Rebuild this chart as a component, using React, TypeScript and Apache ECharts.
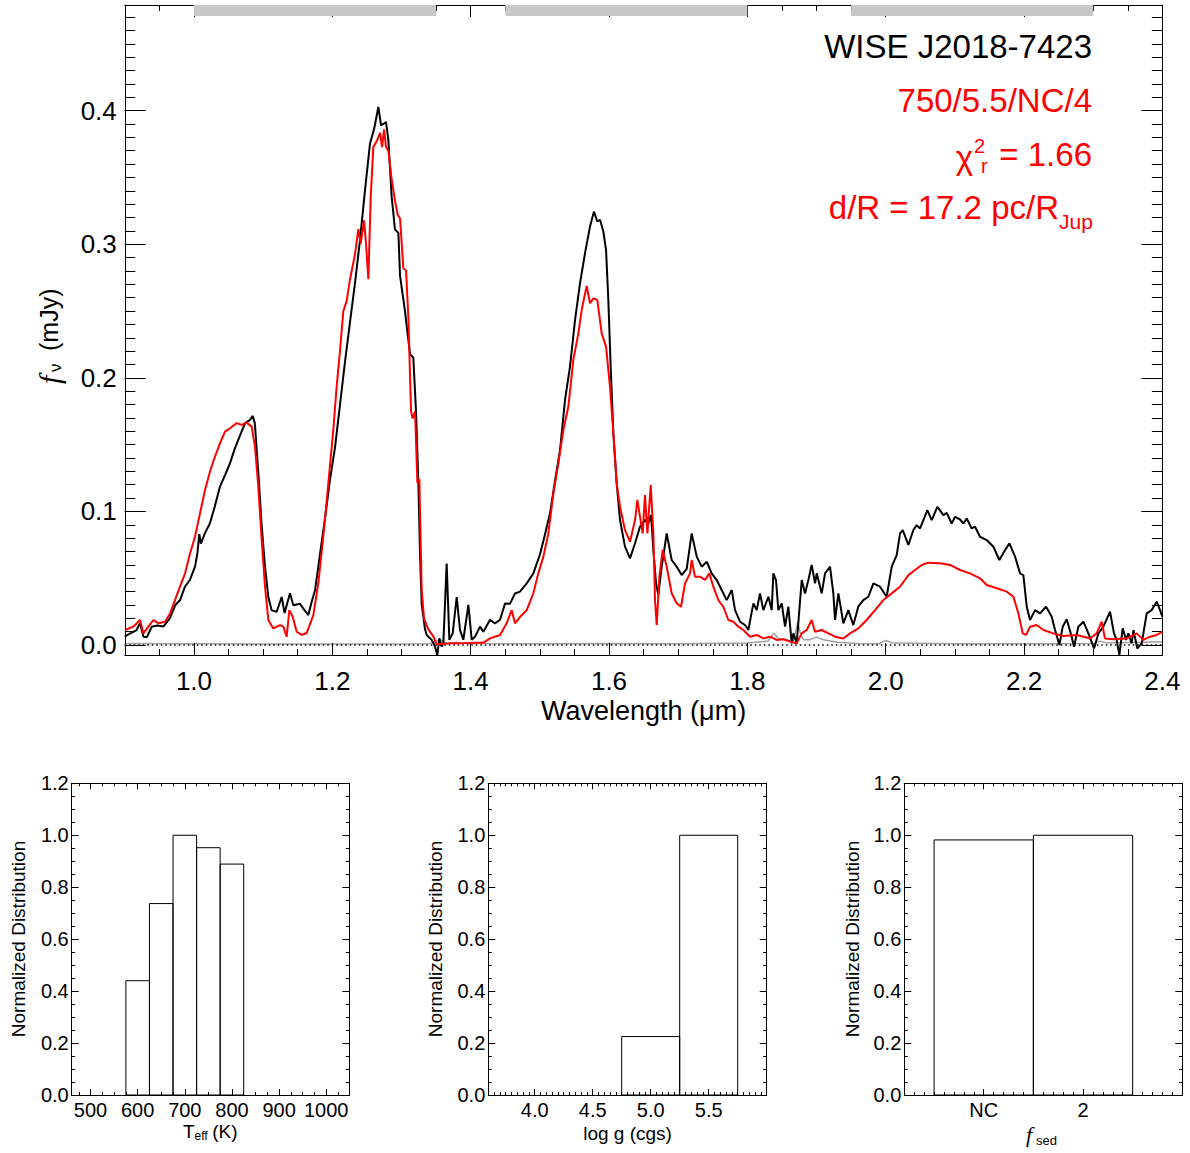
import React, { useEffect, useRef } from "react";
import * as echarts from "echarts";

// ---------------- data: observed spectrum (black) ----------------
const obsWave = [
  0.900, 0.906, 0.917, 0.922, 0.927, 0.932, 0.939, 0.947, 0.956, 0.965, 0.973, 0.980, 0.987, 0.994,
  1.0015, 1.005, 1.0077, 1.010, 1.016, 1.023, 1.030, 1.0376, 1.045, 1.052, 1.059, 1.0666, 1.0738, 1.081,
  1.085, 1.088, 1.093, 1.098, 1.1027, 1.1075, 1.1123, 1.1196, 1.1268, 1.131, 1.1388, 1.1436, 1.153, 1.160,
  1.1653, 1.170, 1.175, 1.1822, 1.1894, 1.1967, 1.2039, 1.2111, 1.2184, 1.2256, 1.2328, 1.240, 1.2473,
  1.2545, 1.2603, 1.2666, 1.2704, 1.2738, 1.2776, 1.281, 1.2858, 1.2906, 1.2955, 1.2979, 1.3051, 1.3123,
  1.3171, 1.321, 1.3244, 1.3268, 1.3292, 1.334, 1.3364, 1.3437, 1.3485, 1.3518, 1.3547, 1.3581, 1.3605,
  1.3653, 1.3692, 1.374, 1.3798, 1.3846, 1.3894, 1.3967, 1.4015, 1.4063, 1.4135, 1.4183, 1.428, 1.4352,
  1.4425, 1.4497, 1.4569, 1.4641, 1.4713, 1.481, 1.4906, 1.5003, 1.5075, 1.5147, 1.522, 1.5292, 1.5364,
  1.5436, 1.5509, 1.5581, 1.5653, 1.5725, 1.5783, 1.5831, 1.587, 1.5918, 1.5957, 1.599, 1.6024, 1.6063,
  1.6111, 1.6159, 1.6231, 1.6304, 1.6376, 1.6448, 1.652, 1.6569, 1.6608, 1.6641, 1.668, 1.6713, 1.6762,
  1.6834, 1.6906, 1.6978, 1.7051, 1.7123, 1.7195, 1.7268, 1.734, 1.7412, 1.7484, 1.7557, 1.7629, 1.7701,
  1.7774, 1.7822, 1.7894, 1.7966, 1.8014, 1.8087, 1.8135, 1.8183, 1.8231, 1.8304, 1.8352, 1.8376, 1.8414,
  1.8448, 1.8497, 1.8545, 1.8593, 1.8641, 1.8665, 1.8713, 1.8786, 1.8834, 1.8882, 1.893, 1.8979, 1.9003,
  1.9075, 1.9123, 1.9195, 1.9243, 1.9268, 1.9316, 1.9388, 1.946, 1.9532, 1.9605, 1.9677, 1.9749, 1.9822,
  1.9918, 2.0014, 2.0087, 2.0159, 2.0207, 2.0246, 2.0328, 2.040, 2.0448, 2.0496, 2.0545, 2.0602, 2.0665,
  2.0747, 2.0834, 2.0882, 2.0954, 2.1002, 2.1075, 2.1123, 2.1171, 2.1243, 2.1291, 2.1364, 2.146, 2.1557,
  2.1643, 2.1711, 2.1788, 2.187, 2.1942, 2.199, 2.2039, 2.2087, 2.2159, 2.2231, 2.2318, 2.240, 2.2448,
  2.2511, 2.2559, 2.2617, 2.2675, 2.2723, 2.2785, 2.2858, 2.293, 2.3012, 2.3075, 2.3147, 2.3243, 2.330,
  2.3339, 2.3378, 2.3426, 2.3474, 2.3508, 2.3556, 2.3581, 2.3638, 2.3701, 2.3773, 2.3845, 2.3918, 2.3966,
  2.400,
];
const obsFlux = [
  0.0063, 0.0083, 0.0113, 0.0163, 0.0063, 0.0060, 0.0138, 0.0146, 0.0140, 0.0200, 0.0300, 0.0338, 0.0437, 0.0487,
  0.0587, 0.0690, 0.0830, 0.0760, 0.0840, 0.0910, 0.1036, 0.1186, 0.1273, 0.1360, 0.1470, 0.1570, 0.1660, 0.1685,
  0.1715, 0.1660, 0.1290, 0.0886, 0.0587, 0.0360, 0.0260, 0.0250, 0.0360, 0.0240, 0.0388, 0.0298, 0.0310, 0.0260,
  0.0225, 0.0320, 0.0410, 0.0680, 0.0947, 0.1240, 0.1480, 0.1800, 0.2123, 0.2418, 0.2710, 0.3030, 0.3406,
  0.3754, 0.3860, 0.4027, 0.3890, 0.3900, 0.3915, 0.3780, 0.3354, 0.3110, 0.3085, 0.2765, 0.2498, 0.2177,
  0.2150, 0.1750, 0.1214, 0.0680, 0.0305, 0.0120, 0.0076, 0.0039, -0.0010, -0.0075, 0.0051, -0.0010, 0.0013,
  0.0610, 0.0039, 0.0088, 0.0360, 0.0113, 0.0040, 0.0301, 0.0040, 0.0063, 0.0138, 0.0100, 0.0190, 0.0163,
  0.0190, 0.0312, 0.0310, 0.0386, 0.0400, 0.0462, 0.0537, 0.0680, 0.0830, 0.0986, 0.1230, 0.1460, 0.1835,
  0.2084, 0.2434, 0.2708, 0.2933, 0.3132, 0.3245, 0.3170, 0.3183, 0.3095, 0.2958, 0.2584, 0.2084, 0.1585,
  0.1210, 0.0936, 0.0737, 0.0649, 0.0762, 0.0886, 0.0936, 0.0910, 0.0974, 0.0712, 0.0462, 0.0375, 0.0587,
  0.0836, 0.0637, 0.0587, 0.0524, 0.0570, 0.0836, 0.0662, 0.0587, 0.0624, 0.0537, 0.0487, 0.0412, 0.0337,
  0.0412, 0.0262, 0.0175, 0.0150, 0.0113, 0.0312, 0.0262, 0.0387, 0.0262, 0.0362, 0.0262, 0.0537, 0.0487,
  0.0262, 0.0312, 0.0138, 0.0287, 0.0013, 0.0088, 0.0013, 0.0487, 0.0387, 0.0487, 0.0600, 0.0462, 0.0537,
  0.0387, 0.0537, 0.0587, 0.0387, 0.0188, 0.0387, 0.0163, 0.0262, 0.0150, 0.0290, 0.0337, 0.0362, 0.0462,
  0.0437, 0.0362, 0.0587, 0.0674, 0.0836, 0.0861, 0.0749, 0.0861, 0.0898, 0.0873, 0.0936, 0.1010, 0.0936,
  0.1035, 0.0973, 0.0990, 0.0910, 0.0960, 0.0940, 0.0910, 0.0948, 0.0873, 0.0886, 0.0811, 0.0786, 0.0736,
  0.0637, 0.0699, 0.0761, 0.0662, 0.0537, 0.0524, 0.0287, 0.0188, 0.0262, 0.0237, 0.0287, 0.0212, 0.0113,
  0.0001, 0.0138, 0.0193, 0.0088, -0.0012, 0.0138, 0.0175, 0.0088, -0.0025, 0.0088, 0.0138, 0.0250, 0.0088,
  0.0039, -0.0075, 0.0126, 0.0039, 0.0088, 0.0013, 0.0113, -0.0025, 0.0013, 0.0237, 0.0262, 0.0325, 0.0262,
  0.0212,
];

// ---------------- data: model spectrum (red) ----------------
const modelWave = [
  0.9003, 0.9123, 0.922, 0.9268, 0.934, 0.9413, 0.9485, 0.9581, 0.9654, 0.9726, 0.9798, 0.9871, 0.9943,
  1.0015, 1.0087, 1.016, 1.0232, 1.0304, 1.0377, 1.0449, 1.0521, 1.0617, 1.069, 1.0762, 1.0834, 1.0882,
  1.093, 1.0979, 1.1027, 1.1075, 1.1147, 1.1244, 1.1292, 1.134, 1.1379, 1.1427, 1.1485, 1.1557, 1.163,
  1.1726, 1.1798, 1.187, 1.1943, 1.2015, 1.2063, 1.2111, 1.2159, 1.2208, 1.2256, 1.2328, 1.2376, 1.241,
  1.2458, 1.2487, 1.2521, 1.2555, 1.2593, 1.2651, 1.269, 1.2719, 1.2748, 1.2776, 1.281, 1.2858, 1.2906,
  1.2945, 1.2979, 1.3027, 1.3066, 1.31, 1.3138, 1.3162, 1.3196, 1.323, 1.3258, 1.3292, 1.3326, 1.3388,
  1.346, 1.3509, 1.3702, 1.3846, 1.4039, 1.4184, 1.428, 1.4425, 1.452, 1.4593, 1.4641, 1.4713, 1.481,
  1.4906, 1.4978, 1.5051, 1.5123, 1.5196, 1.5268, 1.534, 1.5412, 1.5484, 1.5557, 1.5605, 1.5677, 1.5725,
  1.5774, 1.5831, 1.5894, 1.5957, 1.6014, 1.6063, 1.6111, 1.6159, 1.6231, 1.6304, 1.6376, 1.641, 1.6448,
  1.6487, 1.652, 1.6555, 1.6603, 1.6641, 1.6665, 1.669, 1.6728, 1.6776, 1.6834, 1.6906, 1.6978, 1.7041,
  1.7099, 1.7171, 1.7195, 1.7243, 1.7316, 1.7388, 1.745, 1.7508, 1.7581, 1.7653, 1.7725, 1.7798, 1.787,
  1.7942, 1.8039, 1.8135, 1.8231, 1.8328, 1.8424, 1.852, 1.8617, 1.8713, 1.8786, 1.8858, 1.893, 1.8978,
  1.9075, 1.9171, 1.9268, 1.9388, 1.9484, 1.9605, 1.9725, 1.9846, 1.9966, 2.0087, 2.0207, 2.0328, 2.0424,
  2.0521, 2.0617, 2.0786, 2.093, 2.1075, 2.1219, 2.1364, 2.146, 2.1605, 2.1749, 2.1846, 2.1918, 2.1981,
  2.2029, 2.2087, 2.2183, 2.2279, 2.2424, 2.2569, 2.2761, 2.2954, 2.305, 2.3122, 2.317, 2.3291, 2.3484,
  2.3629, 2.3725, 2.3822, 2.3918, 2.400,
];
const modelFlux = [
  0.0113, 0.0138, 0.0188, 0.0088, 0.0138, 0.0188, 0.0163, 0.0175, 0.0237, 0.0337, 0.0437, 0.0537, 0.0686,
  0.0811, 0.0986, 0.1161, 0.1300, 0.1411, 0.1511, 0.1598, 0.1623, 0.1661, 0.1648, 0.1665, 0.1635, 0.1485,
  0.1186, 0.0786, 0.0437, 0.0188, 0.0125, 0.0150, 0.0138, 0.0063, 0.0262, 0.0212, 0.0100, 0.0076, 0.0091,
  0.0225, 0.0466, 0.0813, 0.1214, 0.1615, 0.1936, 0.2204, 0.2498, 0.2578, 0.2738, 0.2925, 0.3112, 0.3005,
  0.3179, 0.3005, 0.2738, 0.3353, 0.3727, 0.3780, 0.3834, 0.3727, 0.3860, 0.3727, 0.3700, 0.3486, 0.3326,
  0.3220, 0.3193, 0.2818, 0.2805, 0.2444, 0.1750, 0.1696, 0.1750, 0.1214, 0.1241, 0.0413, 0.0198, 0.0118,
  0.0065, 0.0006, 0.0013, 0.0013, 0.0018, 0.0018, 0.0050, 0.0076, 0.0163, 0.0262, 0.0163, 0.0210, 0.0262,
  0.0388, 0.0537, 0.0662, 0.0836, 0.1136, 0.1360, 0.1610, 0.1785, 0.2134, 0.2333, 0.2508, 0.2688, 0.2558,
  0.2595, 0.2583, 0.2333, 0.2234, 0.1934, 0.1585, 0.1210, 0.1036, 0.0861, 0.0774, 0.0936, 0.1086, 0.0961,
  0.0836, 0.1123, 0.0836, 0.1198, 0.0836, 0.0337, 0.0150, 0.0512, 0.0712, 0.0587, 0.0388, 0.0313, 0.0287,
  0.0462, 0.0537, 0.0637, 0.0512, 0.0512, 0.0487, 0.0537, 0.0437, 0.0337, 0.0287, 0.0188, 0.0175, 0.0138,
  0.0113, 0.0063, 0.0076, 0.0050, 0.0063, 0.0039, 0.0044, 0.0026, 0.0013, 0.0088, 0.0113, 0.0188, 0.0100,
  0.0113, 0.0088, 0.0063, 0.0050, 0.0088, 0.0126, 0.0188, 0.0262, 0.0337, 0.0387, 0.0437, 0.0524, 0.0562,
  0.0600, 0.0617, 0.0612, 0.0600, 0.0562, 0.0537, 0.0500, 0.0450, 0.0425, 0.0400, 0.0362, 0.0237, 0.0088,
  0.0076, 0.0138, 0.0150, 0.0113, 0.0088, 0.0068, 0.0076, 0.0050, 0.0088, 0.0175, 0.0050, 0.0044, 0.0050,
  0.0088, 0.0039, 0.0063, 0.0076, 0.0100,
];

// ---------------- data: noise spectrum (gray) ----------------
const noiseWave = [
  0.900, 1.000, 1.200, 1.340, 1.356, 1.365, 1.380, 1.400, 1.500, 1.600, 1.700, 1.800, 1.830, 1.838, 1.845,
  1.858, 1.866, 1.873, 1.877, 1.881, 1.890, 1.900, 1.910, 1.930, 1.960, 1.990, 2.000, 2.010, 2.100, 2.200,
  2.300, 2.310, 2.320, 2.400,
];
const noiseFlux = [
  0.0012, 0.0010, 0.0008, 0.0010, 0.0040, 0.0015, 0.0020, 0.0012, 0.0010, 0.0012, 0.0010, 0.0015, 0.0030,
  0.0090, 0.0050, 0.0040, 0.0020, 0.0170, 0.0080, 0.0040, 0.0040, 0.0060, 0.0040, 0.0022, 0.0012, 0.0010,
  0.0035, 0.0015, 0.0010, 0.0010, 0.0012, 0.0030, 0.0015, 0.0025,
];

// gray band markers along top (wavelength ranges)
const bandStart = [1.0, 1.45, 1.95];
const bandEnd = [1.35, 1.8, 2.3];

// main axes
const waveRange = [0.9, 2.4];
const fluxRange = [-0.0074, 0.479];
const waveTicks = [1.0, 1.2, 1.4, 1.6, 1.8, 2.0, 2.2, 2.4];
const fluxTicks = [0.0, 0.1, 0.2, 0.3, 0.4];

// annotation text
const objectName = "WISE J2018-7423";
const bestModel = "750/5.5/NC/4";
const chiValue = "= 1.66";
const distText = "d/R = 17.2 pc/R";

// histograms
const teffCenters = [600, 650, 700, 750, 800];
const teffHeights = [0.44, 0.737, 1.0, 0.952, 0.889];
const teffBinWidth = 50;
const teffRange = [460, 1049];
const teffTicks = [500, 600, 700, 800, 900, 1000];

const loggCenters = [5.0, 5.5];
const loggHeights = [0.225, 1.0];
const loggBinWidth = 0.5;
const loggRange = [3.6, 6.0];
const loggTicks = [4.0, 4.5, 5.0, 5.5];

const fsedLabels = ["NC", "2"];
const fsedCenters = [0, 1];
const fsedHeights = [0.982, 1.0];
const fsedBinWidth = 1;
const fsedRange = [-0.8, 2.0];

const histYRange = [0, 1.2];
const histYTicks = [0.0, 0.2, 0.4, 0.6, 0.8, 1.0, 1.2];

// ---------------- helpers ----------------
const FONT = '"Liberation Sans", Arial, Helvetica, sans-serif';

function steps(a: number, b: number, step: number): number[] {
  const out: number[] = [];
  const n = Math.round((b - a) / step);
  for (let i = 0; i <= n; i++) out.push(+(a + i * step).toFixed(6));
  return out;
}

type AxisSpec = {
  grid: number;
  min: number;
  max: number;
  majors: number[];
  minors: number[];
  majorLen: number;
  minorLen: number;
  labelValues: number[];
  formatter: (v: number) => string;
  fontSize: number;
  margin: number;
};

function buildAxes(dim: "x" | "y", s: AxisSpec) {
  const sides = dim === "x" ? ["bottom", "top"] : ["left", "right"];
  const line = { show: true, onZero: false, lineStyle: { color: "#000", width: 1 } };
  const axes: any[] = [];
  sides.forEach((pos, si) => {
    axes.push({
      type: "value",
      gridIndex: s.grid,
      position: pos,
      min: s.min,
      max: s.max,
      axisLine: line,
      axisTick: {
        show: true,
        inside: true,
        length: s.majorLen,
        customValues: s.majors,
        lineStyle: { color: "#000", width: 1 },
      },
      axisLabel: {
        show: si === 0,
        customValues: s.labelValues,
        formatter: s.formatter,
        fontSize: s.fontSize,
        fontFamily: FONT,
        color: "#000",
        margin: s.margin,
      },
      splitLine: { show: false },
      z: 3,
    });
    axes.push({
      type: "value",
      gridIndex: s.grid,
      position: pos,
      min: s.min,
      max: s.max,
      axisLine: { show: false, onZero: false },
      axisTick: {
        show: true,
        inside: true,
        length: s.minorLen,
        customValues: s.minors,
        lineStyle: { color: "#000", width: 1 },
      },
      axisLabel: { show: false },
      splitLine: { show: false },
      z: 3,
    });
  });
  return axes;
}

function histSeries(grid: number, centers: number[], heights: number[], width: number) {
  return {
    type: "custom",
    xAxisIndex: grid * 4,
    yAxisIndex: grid * 4,
    data: centers.map((c, i) => [c, heights[i]]),
    encode: { x: 0, y: 1 },
    renderItem: (params: any, api: any) => {
      const c = api.value(0);
      const h = api.value(1);
      const p0 = api.coord([c - width / 2, 0]);
      const p1 = api.coord([c + width / 2, h]);
      return {
        type: "rect",
        shape: { x: p0[0], y: p1[1], width: p1[0] - p0[0], height: p0[1] - p1[1] },
        style: { fill: "none", stroke: "#000", lineWidth: 1 },
      };
    },
    z: 2,
  };
}

function txt(text: string, x: number, y: number, font: string, fill: string, align = "left", valign = "middle") {
  return {
    type: "text",
    x,
    y,
    style: {
      text,
      font,
      fill,
      textAlign: align,
      align,
      textVerticalAlign: valign,
      verticalAlign: valign,
    },
    z: 10,
  };
}

export default function App() {
  const ref = useRef<HTMLDivElement>(null);

  useEffect(() => {
    if (!ref.current) return;
    const chart = echarts.init(ref.current, undefined, { renderer: "svg" });

    const grids = [
      { left: 124.8, top: 5, width: 1037.6, height: 650 },
      { left: 71.7, top: 783.3, width: 277.6, height: 311.7 },
      { left: 488.3, top: 783.3, width: 278.4, height: 311.7 },
      { left: 904.3, top: 783.3, width: 278, height: 311.7 },
    ].map((g) => ({ ...g, outerBoundsMode: "none", containLabel: false, show: false }));

    const f1 = (v: number) => v.toFixed(1);
    const histY = (g: number): AxisSpec => ({
      grid: g,
      min: histYRange[0],
      max: histYRange[1],
      majors: histYTicks,
      minors: steps(0, 1.2, 0.05),
      majorLen: 7,
      minorLen: 3.5,
      labelValues: histYTicks,
      formatter: f1,
      fontSize: 20,
      margin: 3,
    });

    const xAxes = [
      ...buildAxes("x", {
        grid: 0, min: waveRange[0], max: waveRange[1], majors: waveTicks,
        minors: steps(0.9, 2.4, 0.05), majorLen: 12, minorLen: 6,
        labelValues: waveTicks, formatter: f1, fontSize: 26, margin: 13,
      }),
      ...buildAxes("x", {
        grid: 1, min: teffRange[0], max: teffRange[1], majors: teffTicks,
        minors: steps(475, 1025, 25), majorLen: 6, minorLen: 3,
        labelValues: teffTicks, formatter: (v) => String(Math.round(v)), fontSize: 20, margin: 5,
      }),
      ...buildAxes("x", {
        grid: 2, min: loggRange[0], max: loggRange[1], majors: [4.0, 4.5, 5.0, 5.5, 6.0],
        minors: steps(3.6, 6.0, 0.05), majorLen: 6, minorLen: 3,
        labelValues: loggTicks, formatter: f1, fontSize: 20, margin: 5,
      }),
      ...buildAxes("x", {
        grid: 3, min: fsedRange[0], max: fsedRange[1], majors: fsedCenters,
        minors: steps(-0.8, 2.0, 0.1), majorLen: 6, minorLen: 3,
        labelValues: fsedCenters, formatter: (v) => fsedLabels[Math.round(v)] ?? "", fontSize: 20, margin: 5,
      }),
    ];

    const yAxes = [
      ...buildAxes("y", {
        grid: 0, min: fluxRange[0], max: fluxRange[1], majors: fluxTicks,
        minors: steps(0, 0.47, 0.01), majorLen: 21, minorLen: 10.5,
        labelValues: fluxTicks, formatter: f1, fontSize: 26, margin: 8,
      }),
      ...buildAxes("y", histY(1)),
      ...buildAxes("y", histY(2)),
      ...buildAxes("y", histY(3)),
    ];

    const pairs = (xs: number[], ys: number[]) => xs.map((x, i) => [x, ys[i]]);

    const series: any[] = [
      {
        type: "line",
        name: "noise",
        xAxisIndex: 0,
        yAxisIndex: 0,
        data: pairs(noiseWave, noiseFlux),
        symbol: "none",
        lineStyle: { color: "#a0a0a0", width: 1.5 },
        z: 2,
      },
      {
        type: "line",
        name: "zero",
        xAxisIndex: 0,
        yAxisIndex: 0,
        data: [[waveRange[0], 0], [waveRange[1], 0]],
        symbol: "none",
        lineStyle: { color: "#000", width: 1.5, type: [1.5, 3] },
        z: 2,
      },
      {
        type: "line",
        name: "observed",
        xAxisIndex: 0,
        yAxisIndex: 0,
        data: pairs(obsWave, obsFlux),
        symbol: "none",
        lineStyle: { color: "#000", width: 2 },
        z: 3,
      },
      {
        type: "line",
        name: "model",
        xAxisIndex: 0,
        yAxisIndex: 0,
        data: pairs(modelWave, modelFlux),
        symbol: "none",
        lineStyle: { color: "#ff0000", width: 2 },
        z: 4,
      },
      {
        type: "custom",
        name: "bands",
        xAxisIndex: 0,
        yAxisIndex: 0,
        data: bandStart.map((s, i) => [s, bandEnd[i]]),
        encode: { x: [0, 1] },
        renderItem: (params: any, api: any) => {
          const a = api.coord([api.value(0), 0]);
          const b = api.coord([api.value(1), 0]);
          const top = params.coordSys.y;
          return {
            type: "rect",
            shape: { x: a[0], y: top, width: b[0] - a[0], height: 11 },
            style: { fill: "#c8c8c8" },
          };
        },
        z: 6,
      },
      histSeries(1, teffCenters, teffHeights, teffBinWidth),
      histSeries(2, loggCenters, loggHeights, loggBinWidth),
      histSeries(3, fsedCenters, fsedHeights, fsedBinWidth),
    ];

    const big = `33px ${FONT}`;
    const sub = `20px ${FONT}`;
    const red = "#ff0000";
    const serifItalic = (size: number) => `italic ${size}px "Liberation Serif", "Times New Roman", serif`;

    const rotatedLabel = (x: number, text: string) => ({
      type: "text",
      x,
      y: 939,
      rotation: Math.PI / 2,
      style: {
        text,
        font: `19px ${FONT}`,
        fill: "#000",
        textAlign: "center",
        align: "center",
        textVerticalAlign: "middle",
        verticalAlign: "middle",
      },
      z: 10,
    });

    const graphic = [
      txt(objectName, 1092, 46, big, "#000", "right"),
      txt(bestModel, 1092, 100, big, red, "right"),
      txt(chiValue, 1092, 154, big, red, "right"),
      txt("χ", 973, 157, big, red, "right"),
      txt("2", 974, 146, sub, red, "left"),
      txt("r", 981, 166, sub, red, "left"),
      txt(distText, 1059, 207, big, red, "right"),
      txt("Jup", 1059, 221, `21px ${FONT}`, red, "left"),
      txt("Wavelength (μm)", 643.6, 711, `27px ${FONT}`, "#000", "center"),
      {
        type: "group",
        x: 49,
        y: 338,
        rotation: Math.PI / 2,
        children: [
          txt("f", -46, 0, serifItalic(30), "#000", "left"),
          txt("ν", -34, 6, `17px ${FONT}`, "#000", "left"),
          txt("(mJy)", -13, 0, `25px ${FONT}`, "#000", "left"),
        ],
      },
      txt("T", 183, 1131, `19px ${FONT}`, "#000", "left"),
      txt("eff", 194.5, 1136, `12px ${FONT}`, "#000", "left"),
      txt(" (K)", 207, 1131, `19px ${FONT}`, "#000", "left"),
      txt("log g (cgs)", 627.5, 1133, `19px ${FONT}`, "#000", "center"),
      txt("f", 1026, 1134, serifItalic(22), "#000", "left"),
      txt("sed", 1036, 1140, `13px ${FONT}`, "#000", "left"),
      rotatedLabel(18, "Normalized Distribution"),
      rotatedLabel(435, "Normalized Distribution"),
      rotatedLabel(852, "Normalized Distribution"),
    ];

    chart.setOption({
      animation: false,
      backgroundColor: "#fff",
      textStyle: { fontFamily: FONT },
      grid: grids,
      xAxis: xAxes,
      yAxis: yAxes,
      series,
      graphic: { elements: graphic },
    });

    return () => chart.dispose();
  }, []);

  return (
    <div
      ref={ref}
      style={{ position: "absolute", left: 0, top: 0, width: 1190, height: 1153, background: "#fff" }}
    />
  );
}
